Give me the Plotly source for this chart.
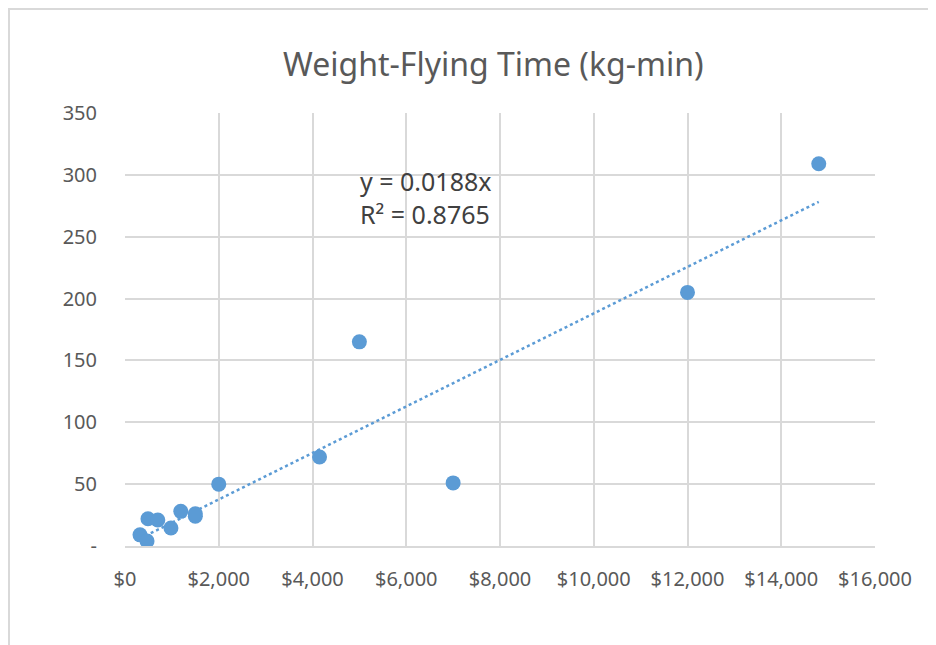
import plotly.graph_objects as go

# 数据：成本($) 与 重量-飞行时间 (kg-min)
cost = [320, 470, 490, 700, 980, 1190, 1500, 1500, 2000, 4150, 5000, 7000, 12000, 14800]
kg_min = [9, 4, 22, 21, 14.5, 28, 24, 26, 50, 72, 165, 51, 205, 309]

slope = 0.0188
r2 = 0.8765

x_ticks = [0, 2000, 4000, 6000, 8000, 10000, 12000, 14000, 16000]
x_labels = ["$0", "$2,000", "$4,000", "$6,000", "$8,000", "$10,000", "$12,000", "$14,000", "$16,000"]
y_ticks = [0, 50, 100, 150, 200, 250, 300, 350]
y_labels = ["-", "50", "100", "150", "200", "250", "300", "350"]

blue = "#5b9bd5"
grid = "#d9d9d9"
txt = "#595959"

# 趋势线（过原点）
tx = [min(cost), max(cost)]
ty = [slope * v for v in tx]

fig = go.Figure()

fig.add_trace(go.Scatter(
    x=tx, y=ty, mode="lines",
    line=dict(color=blue, width=2.5, dash="dot"),
    hoverinfo="skip"
))

fig.add_trace(go.Scatter(
    x=cost, y=kg_min, mode="markers",
    marker=dict(color=blue, size=15)
))

fig.add_annotation(
    x=4980, y=282, xref="x", yref="y",
    text=f"y = {slope}x<br>R² = {r2}",
    showarrow=False, align="left", xanchor="left",
    font=dict(size=25, color="#404040", family="Noto Sans")
)

# 外框
fig.add_shape(type="rect", xref="paper", yref="paper",
              x0=-0.1547, x1=1.1, y0=-0.3, y1=1.2402,
              line=dict(color=grid, width=2))

fig.update_layout(
    width=928, height=637,
    margin=dict(l=117, r=61, t=105, b=99),
    paper_bgcolor="white", plot_bgcolor="white",
    showlegend=False,
    title=dict(text="Weight-Flying Time (kg-min)", x=0.523, xanchor="center",
               y=0.9105, yanchor="middle",
               font=dict(size=32, color=txt, family="Noto Sans")),
    font=dict(family="Noto Sans", color=txt, size=20),
)

fig.update_xaxes(
    range=[0, 16000], tickvals=x_ticks, ticktext=x_labels,
    showgrid=True, gridcolor=grid, gridwidth=1.5,
    showline=True, linecolor=grid, linewidth=1.5, mirror=False,
    zeroline=False, ticks="", ticklabelstandoff=14,
    tickfont=dict(size=20, color=txt)
)
fig.update_yaxes(
    range=[0, 350], tickvals=y_ticks, ticktext=y_labels,
    showgrid=True, gridcolor=grid, gridwidth=1.5,
    showline=False, zeroline=False, ticks="", ticklabelstandoff=27,
    tickfont=dict(size=20, color=txt)
)

fig.write_html("out.html")
